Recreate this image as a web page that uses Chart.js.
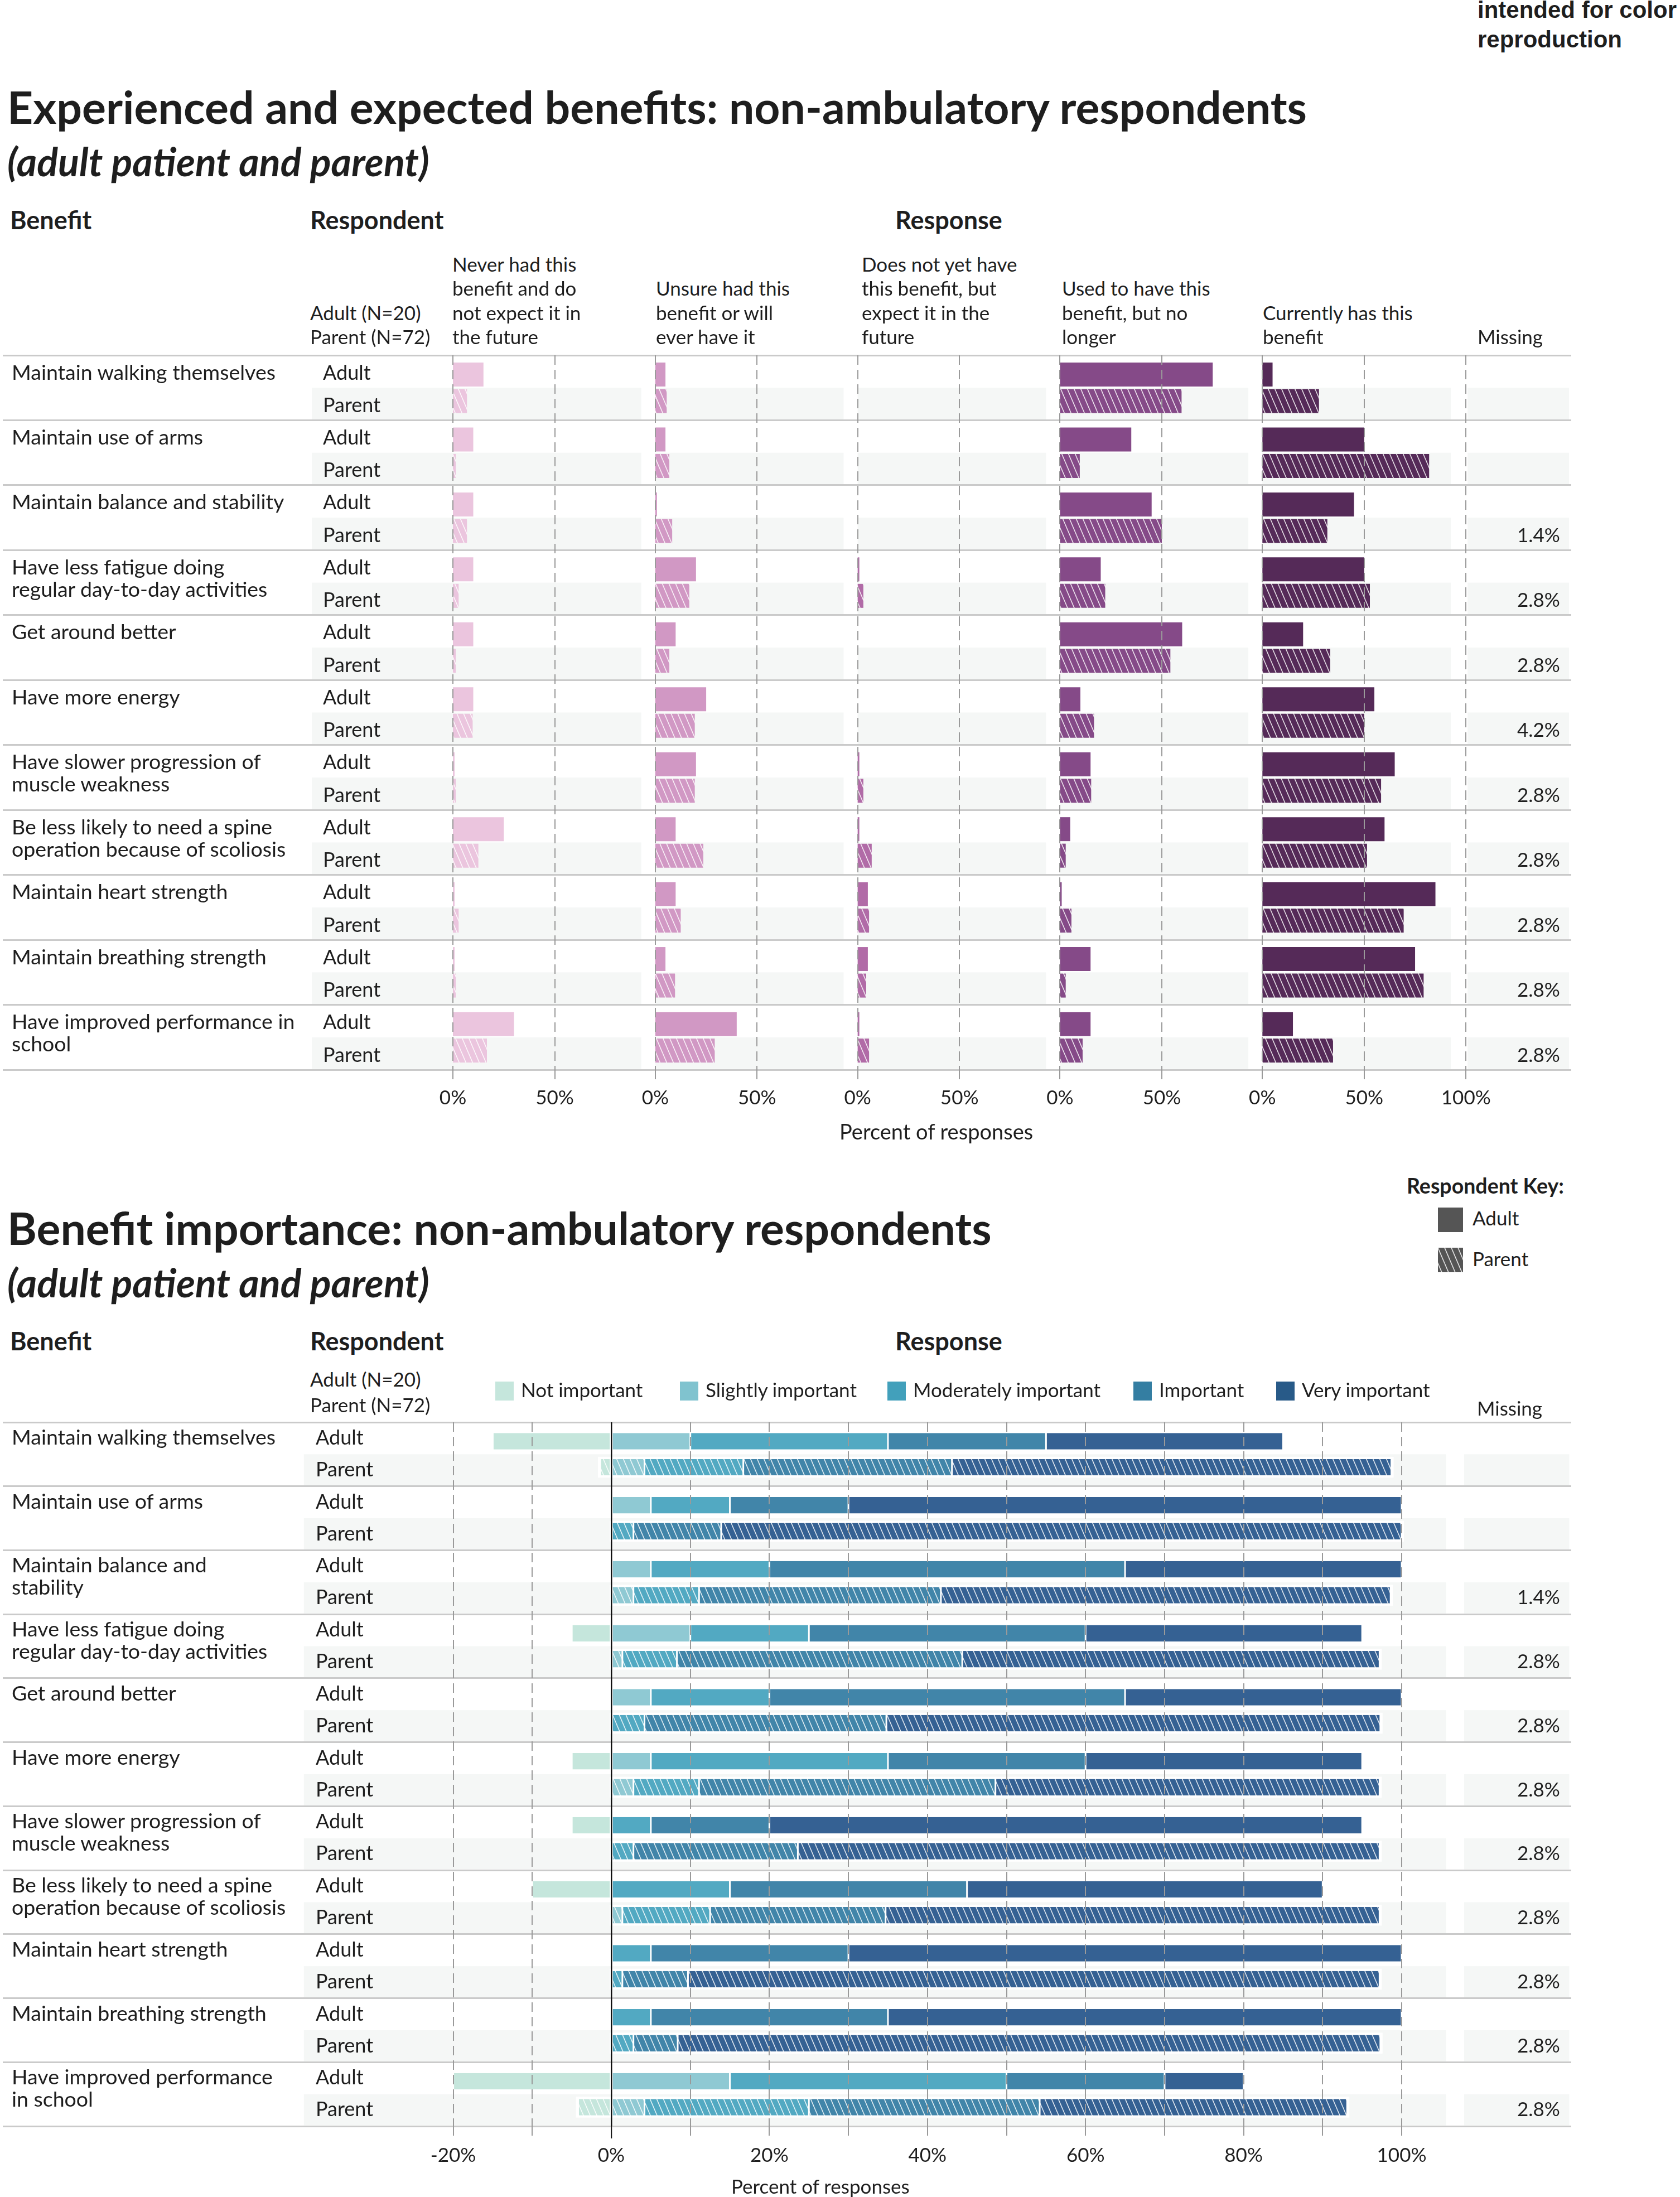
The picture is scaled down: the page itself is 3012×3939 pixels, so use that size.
<!DOCTYPE html>
<html>
<head>
<meta charset="utf-8">
<script src="https://cdn.jsdelivr.net/npm/chart.js@4.4.1/dist/chart.umd.min.js"></script>
<style>
  html, body { margin: 0; padding: 0; background: #fff; }
  #page { position: relative; width: 3012px; height: 3939px; overflow: hidden; background: #fff; }
  #page canvas { position: absolute; left: 0; }
  .t { position: absolute; white-space: pre; color: #1e1e1e; }
  .sw { position: absolute; }
</style>
</head>
<body>
<div id="page">
  <canvas id="topChart" width="3012" height="1460" style="top:600px"></canvas>
  <canvas id="bottomChart" width="3012" height="1439" style="top:2500px"></canvas>
</div>
<script>
// ---- data ----
var benefits = ['Maintain walking themselves', 'Maintain use of arms', 'Maintain balance and stability',
  'Have less fatigue doing regular day-to-day activities', 'Get around better', 'Have more energy',
  'Have slower progression of muscle weakness', 'Be less likely to need a spine operation because of scoliosis',
  'Maintain heart strength', 'Maintain breathing strength', 'Have improved performance in school'];
var respondents = ['Adult', 'Parent'];
var respondentN = ['Adult (N=20)', 'Parent (N=72)'];

// experienced / expected benefit (% of responses)
var experience = ['Never had this benefit and do not expect it in the future',
  'Unsure had this benefit or will ever have it',
  'Does not yet have this benefit, but expect it in the future',
  'Used to have this benefit, but no longer',
  'Currently has this benefit'];
var neverAdult    = [15, 10, 10, 10, 10, 10, 0, 25, 0, 0, 30];
var neverParent   = [6.9, 1.4, 6.9, 2.8, 1.4, 9.7, 1.4, 12.5, 2.8, 1.4, 16.7];
var unsureAdult   = [5, 5, 0, 20, 10, 25, 20, 10, 10, 5, 40];
var unsureParent  = [5.6, 6.9, 8.3, 16.7, 6.9, 19.4, 19.4, 23.6, 12.5, 9.7, 29.2];
var notYetAdult   = [null, null, null, 0, null, null, 0, 0, 5, 5, 0];
var notYetParent  = [null, null, null, 2.8, null, null, 2.8, 6.9, 5.6, 4.2, 5.6];
var usedToAdult   = [75, 35, 45, 20, 60, 10, 15, 5, 0, 15, 15];
var usedToParent  = [59.7, 9.7, 50, 22.2, 54.2, 16.7, 15.3, 2.8, 5.6, 2.8, 11.1];
var currentAdult  = [5, 50, 45, 50, 20, 55, 65, 60, 85, 75, 15];
var currentParent = [27.8, 81.9, 31.9, 52.8, 33.3, 50, 58.3, 51.4, 69.4, 79.2, 34.7];
var missingExperience = [null, null, 1.4, 2.8, 2.8, 4.2, 2.8, 2.8, 2.8, 2.8, 2.8];
var experienceTicks = [0, 50];

// benefit importance (% of responses)
var importance = ['Not important', 'Slightly important', 'Moderately important', 'Important', 'Very important'];
var notImpAdult   = [15, 0, 0, 5, 0, 5, 5, 10, 0, 0, 20];
var notImpParent  = [1.4, 0, 0, 0, 0, 0, 0, 0, 0, 0, 4.2];
var slightAdult   = [10, 5, 5, 10, 5, 5, 0, 0, 0, 0, 15];
var slightParent  = [4.2, 0, 2.8, 1.4, 0, 2.8, 0, 1.4, 0, 0, 4.2];
var moderateAdult = [25, 10, 15, 15, 15, 30, 5, 15, 5, 5, 35];
var moderateParent= [12.5, 2.8, 8.3, 6.9, 4.2, 8.3, 2.8, 11.1, 1.4, 2.8, 20.8];
var importantAdult= [20, 15, 45, 35, 45, 25, 15, 30, 25, 30, 20];
var importantParent=[26.4, 11.1, 30.6, 36.1, 30.6, 37.5, 20.8, 22.2, 8.3, 5.6, 29.2];
var veryAdult     = [30, 70, 35, 35, 35, 35, 75, 45, 70, 65, 10];
var veryParent    = [55.6, 86.1, 56.9, 52.8, 62.5, 48.6, 73.6, 62.5, 87.5, 88.9, 38.9];
var missingImportance = [null, null, 1.4, 2.8, 2.8, 2.8, 2.8, 2.8, 2.8, 2.8, 2.8];
var importanceTicks = [-20, -10, 0, 10, 20, 30, 40, 50, 60, 70, 80, 90, 100];

// ---- layout / style ----
var topLines = [['Maintain walking themselves'], ['Maintain use of arms'], ['Maintain balance and stability'],
  ['Have less fatigue doing', 'regular day-to-day activities'], ['Get around better'], ['Have more energy'],
  ['Have slower progression of', 'muscle weakness'], ['Be less likely to need a spine', 'operation because of scoliosis'],
  ['Maintain heart strength'], ['Maintain breathing strength'], ['Have improved performance in', 'school']];
var bottomLines = [['Maintain walking themselves'], ['Maintain use of arms'], ['Maintain balance and', 'stability'],
  ['Have less fatigue doing', 'regular day-to-day activities'], ['Get around better'], ['Have more energy'],
  ['Have slower progression of', 'muscle weakness'], ['Be less likely to need a spine', 'operation because of scoliosis'],
  ['Maintain heart strength'], ['Maintain breathing strength'], ['Have improved performance', 'in school']];
var experienceHeads = [['Never had this', 'benefit and do', 'not expect it in', 'the future'],
  ['Unsure had this', 'benefit or will', 'ever have it'],
  ['Does not yet have', 'this benefit, but', 'expect it in the', 'future'],
  ['Used to have this', 'benefit, but no', 'longer'],
  ['Currently has this', 'benefit']];

var PANEL_STEP = 99.4;   // offset between response panels on the shared axis
var PANEL_BAND = 92.5;   // width of the shaded band of each panel
var topColors = ['#ebc5de', '#d198c4', '#b16ba7', '#854a88', '#552a58'];
var impColors = ['#c5e6dc', '#8fc9d3', '#52a9c2', '#4185a9', '#356193'];
var impKeyColors = ['#c5e6dc', '#80c3cf', '#42a0bb', '#347ea2', '#285a88'];
var BAND = '#f5f7f6';
var GRID = '#9a9a9a';
var FONT = 'Lato, sans-serif';

var page = document.getElementById('page');

function hatch(color) {
  var c = document.createElement('canvas');
  var w = 12, h = 28;
  c.width = w; c.height = h;
  var g = c.getContext('2d');
  g.fillStyle = color;
  g.fillRect(0, 0, w, h);
  g.strokeStyle = 'rgba(255,255,255,0.85)';
  g.lineWidth = 1.6;
  [-w, 0, w].forEach(function(dx) {
    g.beginPath(); g.moveTo(dx, 0); g.lineTo(dx + w, h); g.stroke();
  });
  return g.createPattern(c, 'repeat');
}

function txt(s, x, base, o) {
  o = o || {};
  var el = document.createElement('div');
  el.className = 't';
  el.style.font = (o.italic ? 'italic ' : '') + (o.bold ? '700 ' : '400 ') + (o.size || 35) + 'px ' + (o.family || FONT);
  el.appendChild(document.createTextNode(s));
  var mark = document.createElement('span');
  mark.style.cssText = 'display:inline-block;width:0;height:0;vertical-align:baseline;';
  el.appendChild(mark);
  page.appendChild(el);
  el.style.top = (base - mark.offsetTop) + 'px';
  var w = el.offsetWidth;
  el.style.left = (o.align === 'right' ? x - w : o.align === 'center' ? x - w / 2 : x) + 'px';
  return el;
}

function box(x, y, w, h, fill) {
  var d = document.createElement('div');
  d.className = 'sw';
  d.style.cssText += 'left:' + x + 'px;top:' + y + 'px;width:' + w + 'px;height:' + h + 'px;background:' + fill + ';';
  page.appendChild(d);
}

Chart.defaults.font.family = FONT;
Chart.defaults.font.size = 35;
Chart.defaults.color = '#1e1e1e';

// shaded parent rows
function bandPlugin(ranges) {
  return {
    id: 'bands',
    beforeDraw: function(chart) {
      var ctx = chart.ctx, x = chart.scales.x, y = chart.scales.y;
      var rowH = (y.bottom - y.top) / benefits.length;
      ctx.save();
      ctx.fillStyle = BAND;
      for (var i = 0; i < benefits.length; i++) {
        var yc = y.getPixelForValue(i);
        ranges.forEach(function(r) {
          var a = x.getPixelForValue(r[0]), b = x.getPixelForValue(r[1]);
          ctx.fillRect(a, yc, b - a, rowH / 2 - 1.5);
        });
      }
      ctx.restore();
    }
  };
}

// ---------- top chart ----------
var adultSets = [neverAdult, unsureAdult, notYetAdult, usedToAdult, currentAdult];
var parentSets = [neverParent, unsureParent, notYetParent, usedToParent, currentParent];
var topDatasets = [];
var topTicks = [], topTickLabels = [];
experience.forEach(function(name, k) {
  var off = k * PANEL_STEP;
  function span(v) { return v === null ? null : [off, off + v]; }
  topDatasets.push({ label: name + ' - Adult', stack: 'adult', data: adultSets[k].map(span), backgroundColor: topColors[k] });
  topDatasets.push({ label: name + ' - Parent', stack: 'parent', data: parentSets[k].map(span), backgroundColor: hatch(topColors[k]) });
  experienceTicks.forEach(function(t) { topTicks.push(off + t); topTickLabels.push(t + '%'); });
});
topTicks.push(4 * PANEL_STEP + 100); topTickLabels.push('100%');

var topBands = [[-69.3, PANEL_BAND]];
for (var k = 1; k < 5; k++) topBands.push([k * PANEL_STEP, k * PANEL_STEP + PANEL_BAND]);
topBands.push([498.4, 548.2]);

var topChart = new Chart(document.getElementById('topChart'), {
  type: 'bar',
  data: { labels: benefits, datasets: topDatasets },
  options: {
    indexAxis: 'y', responsive: false, animation: false, devicePixelRatio: 1, events: [],
    layout: { padding: { top: 37, left: 5, right: 195, bottom: 0 } },
    datasets: { bar: { categoryPercentage: 0.816, barPercentage: 0.905, minBarLength: 3, base: -1000, borderWidth: 0 } },
    plugins: { legend: { display: false }, tooltip: { enabled: false } },
    scales: {
      x: {
        type: 'linear', min: -221.1, max: 549.3, stacked: false,
        afterBuildTicks: function(s) { s.ticks = topTicks.map(function(v) { return { value: v }; }); },
        afterFit: function(s) { s.height = 142; },
        ticks: { autoSkip: false, maxRotation: 0, padding: 4, callback: function(v, i) { return topTickLabels[i]; } },
        grid: { z: 1, color: GRID, lineWidth: 2, tickLength: 26, tickColor: GRID, tickWidth: 2, tickBorderDash: [17, 9] },
        border: { display: false, dash: [17, 9] }
      },
      y: {
        type: 'category',
        afterFit: function(s) { s.width = 0; },
        ticks: { display: false },
        grid: { color: '#cacaca', lineWidth: 3, drawTicks: false },
        border: { display: false }
      }
    }
  },
  plugins: [bandPlugin(topBands)]
});

// ---------- bottom chart ----------
var impAdultSets = [notImpAdult, slightAdult, moderateAdult, importantAdult, veryAdult];
var impParentSets = [notImpParent, slightParent, moderateParent, importantParent, veryParent];
var bottomDatasets = [];
importance.forEach(function(name, k) {
  var sgn = k === 0 ? -1 : 1;   // "Not important" is drawn to the left of 0
  bottomDatasets.push({ label: name + ' - Adult', stack: 'adult', data: impAdultSets[k].map(function(v) { return sgn * v; }), backgroundColor: impColors[k] });
  bottomDatasets.push({ label: name + ' - Parent', stack: 'parent', data: impParentSets[k].map(function(v) { return sgn * v; }), backgroundColor: hatch(impColors[k]) });
});

var haloPlugin = {
  id: 'halo',
  beforeDatasetsDraw: function(chart) {
    var ctx = chart.ctx;
    ctx.save();
    ctx.fillStyle = '#fff';
    for (var j = 0; j < benefits.length; j++) {
      var lo = Infinity, hi = -Infinity, yc = 0, h = 0;
      chart.data.datasets.forEach(function(ds, i) {
        if (ds.stack !== 'parent') return;
        var el = chart.getDatasetMeta(i).data[j];
        if (!el || Math.abs(el.x - el.base) < 0.5) return;
        lo = Math.min(lo, el.x, el.base); hi = Math.max(hi, el.x, el.base);
        yc = el.y; h = el.height;
      });
      if (hi > lo) ctx.fillRect(lo - 4, yc - h / 2 - 4, hi - lo + 8, h + 8);
    }
    ctx.restore();
  }
};

function isZero(c) { return c.tick && c.tick.value === 0; }

var bottomChart = new Chart(document.getElementById('bottomChart'), {
  type: 'bar',
  data: { labels: benefits, datasets: bottomDatasets },
  options: {
    indexAxis: 'y', responsive: false, animation: false, devicePixelRatio: 1, events: [],
    layout: { padding: { top: 50, left: 5, right: 195, bottom: 0 } },
    datasets: { bar: { categoryPercentage: 0.811, barPercentage: 0.634, borderColor: '#ffffff',
      borderWidth: { left: 1.5, right: 1.5, top: 0, bottom: 0 }, borderSkipped: false } },
    plugins: { legend: { display: false }, tooltip: { enabled: false } },
    scales: {
      x: {
        type: 'linear', min: -76.99, max: 121.45, stacked: true,
        afterBuildTicks: function(s) { s.ticks = importanceTicks.map(function(v) { return { value: v }; }); },
        afterFit: function(s) { s.height = 127; },
        ticks: { autoSkip: false, maxRotation: 0, padding: 10,
          callback: function(v, i) { var t = importanceTicks[i]; return t % 20 === 0 ? t + '%' : ''; } },
        grid: {
          z: 1,
          color: function(c) { return isZero(c) ? '#111' : GRID; },
          lineWidth: function(c) { return isZero(c) ? 2.5 : 2; },
          tickLength: 22,
          tickColor: function(c) { return isZero(c) ? '#111' : GRID; },
          tickWidth: 2,
          tickBorderDash: function(c) { return isZero(c) ? [] : [17, 9]; }
        },
        border: { display: false, dash: function(c) { return isZero(c) ? [] : [17, 9]; } }
      },
      y: {
        type: 'category',
        afterFit: function(s) { s.width = 0; },
        ticks: { display: false },
        grid: { color: '#cacaca', lineWidth: 3, drawTicks: false },
        border: { display: false }
      }
    }
  },
  plugins: [bandPlugin([[-38.9, 105.6], [107.9, 121.2]]), haloPlugin]
});

// ---------- text ----------
txt('intended for color', 2649, 32, { bold: true, size: 42, family: '"Liberation Sans", Arial, sans-serif' });
txt('reproduction', 2649, 85, { bold: true, size: 42, family: '"Liberation Sans", Arial, sans-serif' });

function sectionHead(title, dy) {
  txt(title, 13, 222 + dy, { bold: true, size: 80.5 });
  txt('(adult patient and parent)', 13, 316 + dy, { bold: true, italic: true, size: 70 });
  txt('Benefit', 18, 411 + dy, { bold: true, size: 45 });
  txt('Respondent', 556, 411 + dy, { bold: true, size: 45 });
  txt('Response', 1605, 411 + dy, { bold: true, size: 45 });
}

function rowLabels(chart, canvasTop, lines, respX, adultOff, parentOff, missing) {
  var y = chart.scales.y;
  var rowH = (y.bottom - y.top) / benefits.length;
  for (var i = 0; i < benefits.length; i++) {
    var top = canvasTop + y.getPixelForValue(i) - rowH / 2;
    lines[i].forEach(function(l, n) { txt(l, 21, top + adultOff + n * 40, { size: 37.5 }); });
    txt(respondents[0], respX, top + adultOff, { size: 36 });
    txt(respondents[1], respX, top + parentOff, { size: 36 });
    if (missing[i] !== null) txt(missing[i].toFixed(1) + '%', 2797, top + parentOff, { align: 'right' });
  }
}

// top section
sectionHead('Experienced and expected benefits: non-ambulatory respondents', 0);
txt(respondentN[0], 556, 574);
txt(respondentN[1], 556, 617);
var headX = [811, 1176, 1545, 1904, 2264];
var headBase = [487, 530, 574, 617];
experienceHeads.forEach(function(lines, k) {
  lines.forEach(function(l, n) { txt(l, headX[k], headBase[4 - lines.length + n]); });
});
txt('Missing', 2649, 617);
rowLabels(topChart, 600, topLines, 579, 43.5, 102, missingExperience);
txt('Percent of responses', 1505, 2043, { size: 38 });

// bottom section
sectionHead('Benefit importance: non-ambulatory respondents', 2010);
txt(respondentN[0], 556, 2486);
txt(respondentN[1], 556, 2532);
txt('Missing', 2648, 2538);
var keyX = [888, 1219, 1591, 2032, 2288];
importance.forEach(function(name, k) {
  box(keyX[k], 2477, 33, 34, impKeyColors[k]);
  txt(name, keyX[k] + 46, 2505);
});
rowLabels(bottomChart, 2500, bottomLines, 566, 40, 97, missingImportance);
txt('Percent of responses', 1471, 3933, { align: 'center' });

// respondent key
txt('Respondent Key:', 2522, 2140, { bold: true, size: 37.5 });
box(2578, 2165, 45, 44, '#555555');
txt('Adult', 2640, 2197);
var kc = document.createElement('canvas');
kc.width = 45; kc.height = 44;
kc.style.cssText = 'left:2578px;top:2237px;';
var kg = kc.getContext('2d');
kg.fillStyle = hatch('#555555');
kg.fillRect(0, 0, 45, 44);
page.appendChild(kc);
txt('Parent', 2640, 2270);
</script>
</body>
</html>
